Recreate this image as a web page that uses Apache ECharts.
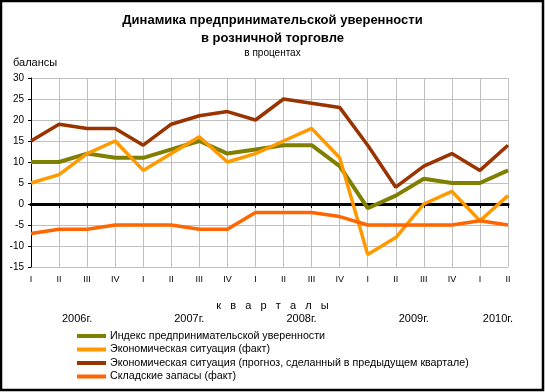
<!DOCTYPE html>
<html>
<head>
<meta charset="utf-8">
<script src="https://cdn.jsdelivr.net/npm/echarts@6/dist/echarts.min.js"></script>
<style>
html,body{margin:0;padding:0;background:#fff;}
#c{width:545px;height:392px;}
</style>
</head>
<body>
<div id="c"></div>
<script>
const quarters = ['I','II','III','IV','I','II','III','IV','I','II','III','IV','I','II','III','IV','I','II'];
const years = ['2006г.','2007г.','2008г.','2009г.','2010г.'];
const yearQuarterCount = [4,4,4,4,2];
const confidenceIndex = [10,10,12,11,11,13,15,12,13,14,14,9,-1,2,6,5,5,8];
const econFact = [5,7,12,15,8,12,16,10,12,15,18,11,-12,-8,0,3,-4,2];
const econForecast = [15,19,18,18,14,19,21,22,20,25,24,23,14,4,9,12,8,14];
const stocksFact = [-7,-6,-6,-5,-5,-5,-6,-6,-2,-2,-2,-3,-5,-5,-5,-5,-4,-5];
const seriesNames = [
  'Индекс предпринимательской уверенности',
  'Экономическая ситуация (факт)',
  'Экономическая ситуация (прогноз, сделанный в предыдущем квартале)',
  'Складские запасы (факт)'
];
const colors = ['#808000','#FF9900','#993300','#FF6600'];

const FONT = '"Liberation Sans", Arial, sans-serif';
const chart = echarts.init(document.getElementById('c'), null, {renderer:'canvas'});

function mkLine(name, data, color, w){
  return {name:name, type:'line', data:data, xAxisIndex:0, yAxisIndex:0,
    symbol:'none', lineStyle:{color:color, width:w}, itemStyle:{color:color}, z:3};
}

const option = {
  animation:false,
  backgroundColor:'#fff',
  title:{
    text:'Динамика предпринимательской уверенности\nв розничной торговле',
    subtext:'в процентах',
    left:'center', top:7, itemGap:1,
    textStyle:{fontFamily:FONT, fontSize:13, fontWeight:'bold', color:'#000', lineHeight:17.5},
    subtextStyle:{fontFamily:FONT, fontSize:10, color:'#000'}
  },
  grid:{left:31, right:37, top:78, bottom:125, containLabel:false},
  legend:{
    orient:'vertical', left:77, top:329.5, height:70, padding:0,
    itemWidth:29, itemHeight:4, itemGap:0.5,
    icon:'rect',
    textStyle:{fontFamily:FONT, fontSize:10.7, color:'#000', lineHeight:13, padding:[0,0,0,-1]},
    data:seriesNames
  },
  xAxis:[{
    type:'category', data:quarters, boundaryGap:false, position:'bottom',
    axisLine:{show:false, onZero:false},
    axisTick:{show:false},
    axisLabel:{fontFamily:FONT, fontSize:9, color:'#000', margin:8, interval:0},
    splitLine:{show:true, lineStyle:{color:'#C0C0C0', width:1}},
    name:'к   в   а   р   т   а   л   ы', nameLocation:'middle', nameGap:33,
    nameTextStyle:{fontFamily:FONT, fontSize:11, color:'#000', padding:[0,0,0,6]}
  },{
    type:'category', data:quarters, boundaryGap:false, position:'bottom',
    axisLine:{show:true, onZero:true, onZeroAxisIndex:0, lineStyle:{color:'#000', width:3}},
    axisTick:{show:true, length:4, inside:false, interval:0, lineStyle:{color:'#000', width:1}},
    axisLabel:{show:false},
    splitLine:{show:false}, z:2
  }],
  yAxis:[{
    type:'value', min:-15, max:30, interval:5,
    axisLine:{show:true, onZero:false, lineStyle:{color:'#000', width:1}},
    axisTick:{show:true, length:3, lineStyle:{color:'#000'}},
    axisLabel:{fontFamily:FONT, fontSize:10, color:'#000', margin:7},
    splitLine:{show:true, lineStyle:{color:'#C0C0C0', width:1}}
  }],
  series:[
    mkLine(seriesNames[0], confidenceIndex, colors[0], 4),
    mkLine(seriesNames[1], econFact, colors[1], 3.5),
    mkLine(seriesNames[2], econForecast, colors[2], 3.5),
    mkLine(seriesNames[3], stocksFact, colors[3], 3.5)
  ]
};
chart.setOption(option);

// year labels centred under their quarters
const g = [
  {type:'rect', shape:{x:1, y:1, width:542, height:389}, style:{fill:'none', stroke:'#000', lineWidth:2.5}, z:100},
  {type:'text', x:13, y:63, style:{text:'балансы', font:'11px ' + FONT, fill:'#000', textVerticalAlign:'middle', textAlign:'left'}}
];
let start = 0;
years.forEach((y, k) => {
  const a = chart.convertToPixel({xAxisIndex:0}, start);
  const b = chart.convertToPixel({xAxisIndex:0}, start + yearQuarterCount[k] - 1);
  const cx = (a + b) / 2 + 4;
  const cy = chart.convertToPixel({yAxisIndex:0}, -15) + 52;
  g.push({type:'text', x:cx, y:cy, style:{text:y, font:'11px ' + FONT, fill:'#000', textAlign:'center', textVerticalAlign:'middle'}});
  start += yearQuarterCount[k];
});
chart.setOption({graphic:g});
</script>
</body>
</html>
